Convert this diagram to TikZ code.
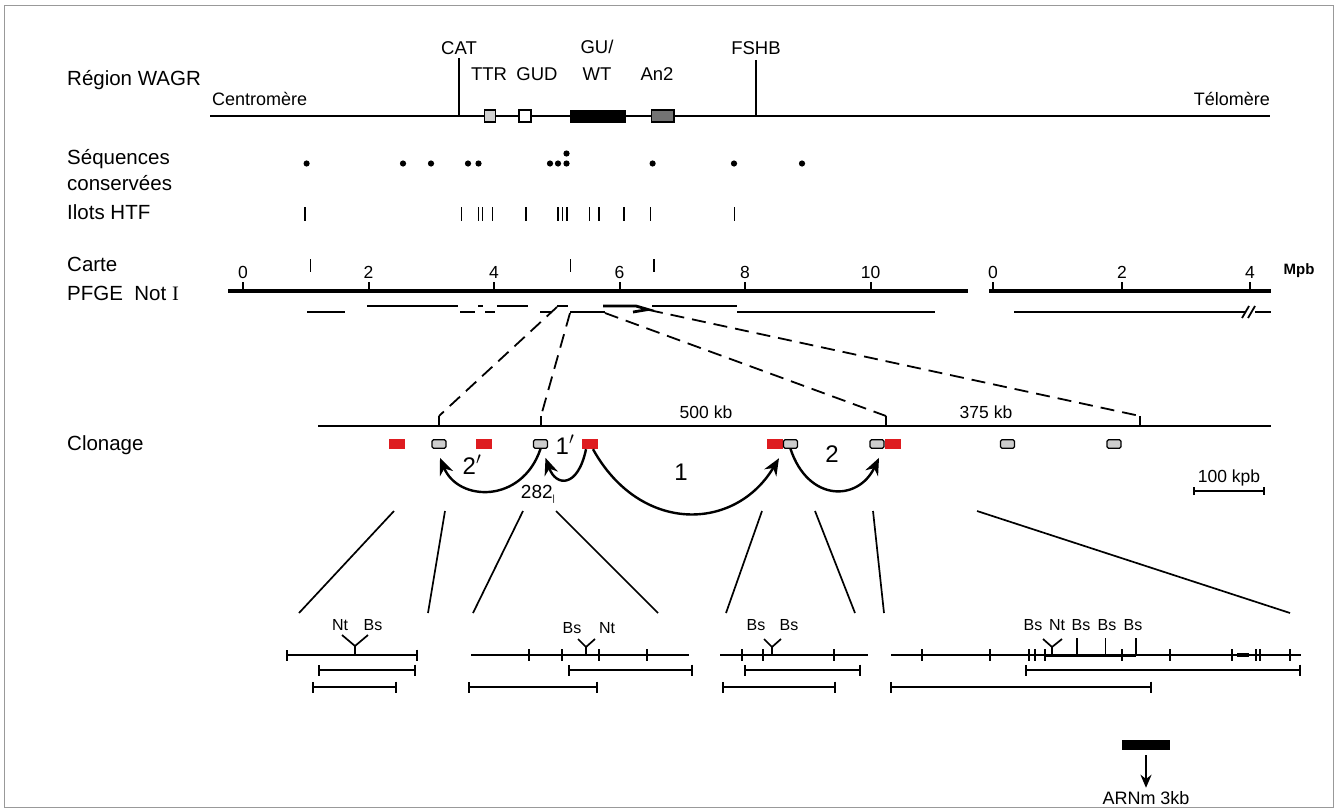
\documentclass[tikz,border=0pt]{standalone}
\usepackage{fontspec}
\setmainfont{Liberation Sans}
\newfontfamily\serifI{Liberation Serif}
\usetikzlibrary{arrows.meta}
\definecolor{cred}{RGB}{222,28,32}
\definecolor{cgray}{RGB}{205,205,205}
\begin{document}
\begin{tikzpicture}[x=1pt,y=-1pt,
  lbl/.style={anchor=base west,inner sep=0pt,font=\fontsize{20.5}{24}\selectfont},
  gene/.style={anchor=base,inner sep=0pt,font=\fontsize{18.5}{21}\selectfont},
  num/.style={anchor=base,inner sep=0pt,font=\fontsize{17.5}{20}\selectfont},
  site/.style={anchor=base,inner sep=0pt,font=\fontsize{16}{18}\selectfont},
  big/.style={anchor=base,inner sep=0pt,font=\fontsize{24}{27}\selectfont},
  ln/.style={line width=1.7pt},
  axisline/.style={line width=4pt},
  seg/.style={line width=2.8pt},
  dsh/.style={line width=1.8pt,dash pattern=on 14pt off 8pt},
  rl/.style={line width=1.7pt},
  map/.style={line width=1.7pt},
  endbar/.style={line width=1.7pt,{Bar[width=11pt]}-{Bar[width=11pt]}},
  redbox/.style={fill=cred,minimum width=16pt,minimum height=10pt,inner sep=0pt},
  graybox/.style={draw=black,fill=cgray,rounded corners=1.5pt,minimum width=14pt,minimum height=8.5pt,inner sep=0pt,line width=1.2pt},
  arr/.style={line width=2.4pt,-{Stealth[length=17pt,width=14pt]}},
]
\useasboundingbox (0,0) rectangle (1337,811);
\draw[black!40,line width=0.8pt] (4,5) rectangle (1333,807);

% left labels
\node[lbl] (wagr) at (67,85) {Région WAGR};
\node[lbl] (seq) at (67,164) {Séquences};
\node[lbl] (cons) at (67,190) {conservées};
\node[lbl] (htf) at (67,219) {Ilots HTF};
\node[lbl] (carte) at (67,271) {Carte};
\node[lbl] (pfge) at (67,300) {PFGE\ \ Not {\serifI I}};
\node[lbl] (clon) at (67,450) {Clonage};

% chromosome region
\coordinate (chL) at (210,116);
\coordinate (chR) at (1270,116);
\draw[ln] (chL) -- (chR);
\node[anchor=base west,inner sep=0pt,font=\fontsize{18}{21}\selectfont] (centro) at (212,105) {Centromère};
\node[anchor=base east,inner sep=0pt,font=\fontsize{18}{21}\selectfont] (telo) at (1270,105) {Télomère};
\node[gene] (cat) at (459,54) {CAT};
\draw[ln] ([yshift=-4pt]cat.south) -- (cat.south |- chL);
\node[gene] (fshb) at (756,54) {FSHB};
\draw[ln] ([yshift=-6pt]fshb.south) -- (fshb.south |- chL);
\node[gene] (ttr) at (489,80) {TTR};
\node[gene] (gud) at (537,80) {GUD};
\node[gene] (gu) at (597,53) {GU/};
\node[gene] (wt) at (597,80) {WT};
\node[gene] (an2) at (657,80) {An2};
\draw[line width=1.1pt,fill=black!18] (484.5,110) rectangle (495.5,122);
\draw[line width=1.1pt,fill=white] (519,110) rectangle (531,122);
\fill (570,109.5) rectangle (626,122.5);
\draw[line width=1.1pt,fill=black!55] (651.5,110) rectangle (674,122);

% conserved sequences
\foreach \x in {306.6,403,431,468,478.5,550,558,566.5,652.6,734,802}
  \fill (\x,163.5) circle (3.1pt);
\fill (566.5,153.5) circle (3.1pt);

% HTF islands
\foreach \x in {305,461.5,478.5,482.5,492.5,526,558,562.5,567,589.5,599,624,650.5,734.5}
  \draw[line width=1.8pt] (\x,207) -- (\x,221);

% PFGE map axis
\draw[axisline] (228,291) -- (968,291);
\foreach \x/\l in {243/0,368.5/2,494/4,619.5/6,745/8,870.5/10}{
  \draw[line width=2pt] (\x,291) -- (\x,282);
  \node[num] at (\x,278) {\l};
}
\foreach \x in {310.5,570.5,653.7}
  \draw[line width=1.9pt] (\x,259) -- (\x,272);
\draw[axisline] (989,291) -- (1271,291);
\foreach \x/\l in {993/0,1122/2,1250/4}{
  \draw[line width=2pt] (\x,291) -- (\x,282);
  \node[num] at (\x,278) {\l};
}
\node[anchor=base,inner sep=0pt,font=\bfseries\fontsize{15}{17}\selectfont] (mpb) at (1299,274) {Mpb};

% PFGE fragments
\draw[seg] (307,312) -- (345,312);
\draw[seg] (367,306) -- (458,306);
\draw[seg] (460,312) -- (475,312);
\draw[seg] (478,306) -- (483,306);
\draw[seg] (485,312) -- (495,312);
\draw[seg] (497,306) -- (528,306);
\draw[seg] (540,312) -- (552,312);
\draw[seg] (557,306) -- (568,306);
\draw[seg] (570,312) -- (605,312);
\draw[seg] (603,306) -- (636,306) -- (648,309.5) -- (633,312);
\draw[seg] (652,306) -- (737,306);
\draw[seg] (737,312) -- (935,312);
\draw[seg] (1014,312) -- (1245,312);
\draw[seg] (1255,312) -- (1271,312);
\draw[line width=1.8pt] (1242,318) -- (1249,306) (1248,318) -- (1255,306);

% dashed connectors
\coordinate (d1) at (557,307);
\coordinate (d2) at (570,313);
\coordinate (d3) at (605,313);
\coordinate (d4) at (649,310);
\coordinate (t1) at (439,416);
\coordinate (t2) at (541,416);
\coordinate (t3) at (886,416);
\coordinate (t4) at (1140,416);
\draw[dsh] (d1) -- (t1);
\draw[dsh] (d2) -- (t2);
\draw[dsh] (d3) -- (t3);
\draw[dsh] (d4) -- (t4);

% clone line
\draw[line width=2.2pt] (318,426) -- (1271,426);
\foreach \c in {t1,t2,t3,t4} \draw[ln] (\c) -- (\c |- 0,426);
\node[num] (k500) at (706,418) {500 kb};
\node[num] (k375) at (986,418) {375 kb};

\node[redbox] (r1) at (396.5,444) {};
\node[graybox] (g1) at (439,444) {};
\node[redbox] (r2) at (483.5,444) {};
\node[graybox] (g2) at (540.5,444) {};
\node[redbox] (r3) at (590,444) {};
\node[redbox] (r4) at (775,444) {};
\node[graybox] (g3) at (790.5,444) {};
\node[graybox] (g4) at (877,444) {};
\node[redbox] (r5) at (893,444) {};
\node[graybox] (g5) at (1007.5,444) {};
\node[graybox] (g6) at (1114,444) {};

\node[big] (l1p) at (565,454) {1$'$};
\node[big] (l2p) at (472,474) {2$'$};
\node[big] (l1) at (681,480) {1};
\node[big] (l2) at (832,462) {2};
\node[anchor=base,inner sep=0pt,font=\fontsize{19}{22}\selectfont] (l282) at (538,498) {282\raisebox{-3pt}{\fontsize{9}{10}\selectfont |}};

\draw[arr] (g2.south) .. controls (522,504) and (458,502) .. ([shift={(1pt,-9pt)}]g1.south);
\draw[arr] ([xshift=-4pt]r3.south) .. controls (578,488) and (556,487) .. ([shift={(5pt,-9pt)}]g2.south);
\draw[arr] ([xshift=3pt]r3.south) .. controls (640,534) and (735,532) .. ([shift={(4pt,-9pt)}]r4.south);
\draw[arr] (g3.south) .. controls (808,502) and (858,502) .. ([shift={(2pt,-9pt)}]g4.south);

% scale bar
\node[anchor=base,inner sep=0pt,font=\fontsize{17.5}{20}\selectfont] (kpb) at (1229,482) {100 kpb};
\draw[line width=1.6pt,{Bar[width=8pt]}-{Bar[width=8pt]}] (1193,491) -- (1265,491);

% zoom lines
\coordinate (a1) at (394,511); \coordinate (b1) at (299,613);
\coordinate (a2) at (445,511); \coordinate (b2) at (428,613);
\coordinate (a3) at (523,511); \coordinate (b3) at (473,613);
\coordinate (a4) at (556,511); \coordinate (b4) at (658,613);
\coordinate (a5) at (762,511); \coordinate (b5) at (726,613);
\coordinate (a6) at (815,511); \coordinate (b6) at (855,613);
\coordinate (a7) at (873,511); \coordinate (b7) at (884,613);
\coordinate (a8) at (977,511); \coordinate (b8) at (1290,613);
\foreach \i in {1,...,8} \draw[rl] (a\i) -- (b\i);

% map 1
\draw[endbar] (286,655) -- (418,655);
\draw[map] (342,635) -- (355,646) -- (368,635) (355,646) -- (355,655);
\node[site] (m1a) at (340,630) {Nt};
\node[site] (m1b) at (373,630) {Bs};
\draw[endbar] (318,670) -- (416,670);
\draw[endbar] (312,687) -- (397,687);

% map 2
\draw[map] (471,655) -- (689,655);
\foreach \x in {529,562,599,647} \draw[map] (\x,649) -- (\x,661);
\draw[map] (578,639) -- (586,647) -- (595,639) (586,647) -- (586,655);
\node[site] (m2a) at (572,633) {Bs};
\node[site] (m2b) at (607,633) {Nt};
\draw[endbar] (568,670) -- (693,670);
\draw[endbar] (468,687) -- (598,687);

% map 3
\draw[map] (720,655) -- (868,655);
\foreach \x in {742,763,834} \draw[map] (\x,649) -- (\x,661);
\draw[map] (764,639) -- (772,647) -- (781,639) (772,647) -- (772,655);
\node[site] (m3a) at (756,630) {Bs};
\node[site] (m3b) at (789,630) {Bs};
\draw[endbar] (744,670) -- (861,670);
\draw[endbar] (722,687) -- (836,687);

% map 4
\draw[map] (891,655) -- (1301,655);
\draw[line width=3pt] (1045,655) -- (1136,655);
\draw[line width=3.4pt] (1237,655) -- (1249,655);
\foreach \x in {922,990,1029,1035,1045,1122,1170,1232,1256,1260,1290} \draw[map] (\x,649) -- (\x,661);
\foreach \x in {1077,1105.5,1136} \draw[map] (\x,655) -- (\x,638);
\draw[map] (1043,639) -- (1052,647) -- (1062,639) (1052,647) -- (1052,655);
\node[site] (m4a) at (1033,630) {Bs};
\node[site] (m4b) at (1057,630) {Nt};
\node[site] (m4c) at (1081,630) {Bs};
\node[site] (m4d) at (1107,630) {Bs};
\node[site] (m4e) at (1133,630) {Bs};
\draw[endbar] (1025,670) -- (1301,670);
\draw[endbar] (890,687) -- (1152,687);

% transcript
\node[fill=black,minimum width=48pt,minimum height=10pt,inner sep=0pt] (probe) at (1146,745) {};
\node[anchor=base,inner sep=0pt,font=\fontsize{18}{21}\selectfont] (arnm) at (1146,804) {ARNm 3kb};
\draw[line width=2.2pt,-{Stealth[length=13pt,width=11pt]}] ([yshift=-5pt]probe.south) -- ([yshift=3pt]arnm.north);
\end{tikzpicture}
\end{document}
